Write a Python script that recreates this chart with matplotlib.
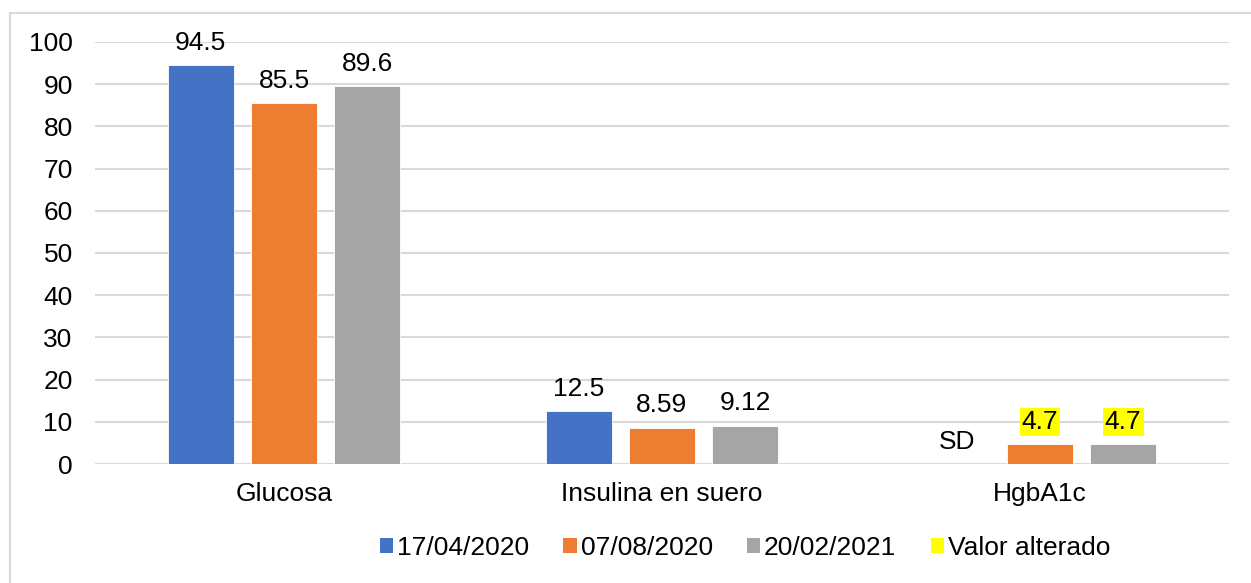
import numpy as np
import matplotlib.pyplot as plt
from matplotlib.patches import Rectangle, Patch

plt.rcParams['font.family'] = ['Liberation Sans', 'DejaVu Sans']

categorias = ['Glucosa', 'Insulina en suero', 'HgbA1c']
fechas = ['17/04/2020', '07/08/2020', '20/02/2021']
colores = ['#4472C4', '#ED7D31', '#A5A5A5']
# NaN = sin dato (SD)
valores = [
    [94.5, 12.5, np.nan],
    [85.5, 8.59, 4.7],
    [89.6, 9.12, 4.7],
]
etiquetas = [
    ['94.5', '12.5', 'SD'],
    ['85.5', '8.59', '4.7'],
    ['89.6', '9.12', '4.7'],
]
alterados = [(1, 2), (2, 2)]  # (serie, categoria)

fs = 19

fig = plt.figure(figsize=(12.51, 5.83), dpi=100)
ax = fig.add_axes([0.0759, 0.2041, 0.9065, 0.7239])

# marco del grafico
fig.patches.append(Rectangle((10 / 1251, -0.1), 1.2, 1 - 13 / 583 + 0.1,
                             transform=fig.transFigure, fill=False,
                             edgecolor='#D9D9D9', linewidth=1.5, zorder=0))

x = np.arange(len(categorias))
ancho = 0.175
paso = 0.22
for i, (serie, col) in enumerate(zip(valores, colores)):
    pos = x + (i - 1) * paso
    alturas = np.nan_to_num(serie)
    ax.bar(pos, alturas, ancho, color=col, edgecolor='white', linewidth=0.6,
           zorder=3)
    for j, (p, h, txt) in enumerate(zip(pos, alturas, etiquetas[i])):
        kw = {}
        if (i, j) in alterados:
            kw['bbox'] = dict(boxstyle='square,pad=0.08', facecolor='#FFFF00',
                              edgecolor='none')
        ax.annotate(txt, (p, h), xytext=(0, 11), textcoords='offset points',
                    ha='center', va='baseline', fontsize=fs, **kw)

ax.set_xlim(-0.5, 2.5)
ax.set_ylim(0, 100)
ax.set_yticks(range(0, 101, 10))
ax.set_xticks(x)
ax.set_xticklabels(categorias)
ax.tick_params(axis='both', length=0, labelsize=fs)
ax.tick_params(axis='x', pad=13)
ax.tick_params(axis='y', pad=16)
ax.grid(axis='y', color='#D9D9D9', linewidth=1.5, zorder=0)
for s in ax.spines.values():
    s.set_visible(False)

handles = [Patch(facecolor=c) for c in colores] + [Patch(facecolor='#FFFF00')]
fig.legend(handles, fechas + ['Valor alterado'], loc='center',
           bbox_to_anchor=(0.5955, 0.06), ncol=4, frameon=False, fontsize=fs,
           handlelength=0.5, handleheight=0.5, handletextpad=0.15,
           columnspacing=1.3, borderpad=0, borderaxespad=0)

fig.savefig('out.png', dpi=100)
